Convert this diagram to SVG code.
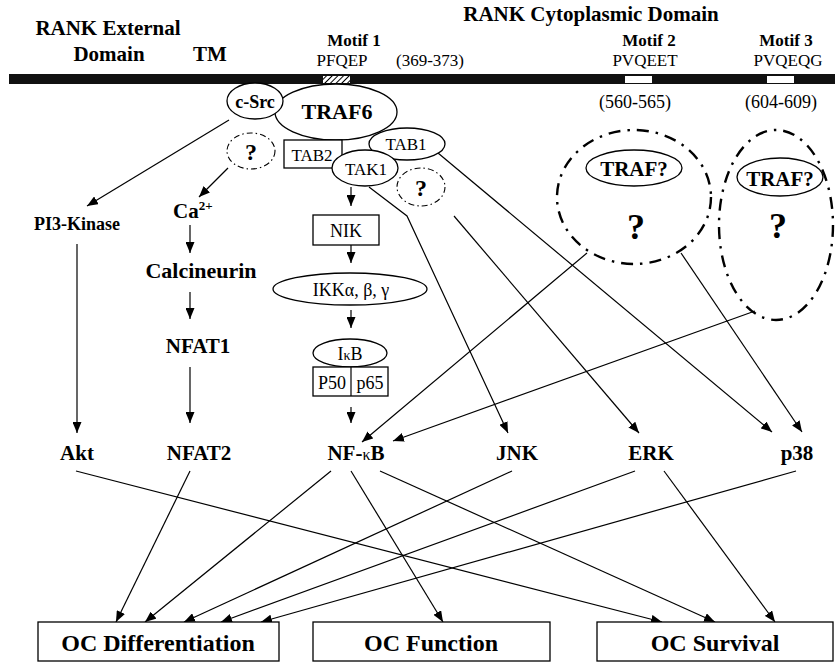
<svg xmlns="http://www.w3.org/2000/svg" width="835" height="665" viewBox="0 0 835 665">
<style>
text{font-family:"Liberation Serif","Times New Roman",serif;fill:#000;text-anchor:middle}
.b{font-weight:bold}
.s18{font-size:18px}
.s17{font-size:17px}
.s21{font-size:21px}
.shape{fill:#fff;stroke:#000;stroke-width:1.3}
.q{fill:none;stroke:#000;stroke-width:1.1;stroke-dasharray:6,3,1.5,3}
.big{fill:none;stroke:#000;stroke-width:2.4;stroke-dasharray:12,7,2.5,7}
.ln{fill:none;stroke:#000;stroke-width:1.2}
.ar{marker-end:url(#ah)}
</style>
<defs>
<marker id="ah" markerUnits="userSpaceOnUse" markerWidth="11" markerHeight="9" refX="11" refY="4.5" orient="auto">
<path d="M0,0 L11,4.5 L0,9 z" fill="#000"/>
</marker>
<pattern id="hatch" patternUnits="userSpaceOnUse" width="4" height="4" patternTransform="rotate(45)">
<rect width="4" height="4" fill="#fff"/>
<line x1="0" y1="0" x2="0" y2="4" stroke="#000" stroke-width="2"/>
</pattern>
</defs>

<g id="membrane">
<rect x="9" y="74" width="826" height="10" fill="#111"/>
<rect x="323" y="76" width="27" height="7" fill="url(#hatch)"/>
<rect x="625" y="76" width="27" height="7" fill="#fff"/>
<rect x="767" y="76" width="27" height="7" fill="#fff"/>
</g>

<g id="headers">
<text class="b s21" x="108" y="35">RANK External</text>
<text class="b s21" x="109" y="61">Domain</text>
<text class="b s21" x="210" y="61">TM</text>
<text class="b s21" x="591" y="21">RANK Cytoplasmic Domain</text>
<text class="b s17" x="354" y="46">Motif 1</text>
<text class="s17" x="342" y="66">PFQEP</text>
<text class="s17" x="430" y="66">(369-373)</text>
<text class="b s17" x="649" y="46">Motif 2</text>
<text class="s17" x="645" y="66">PVQEET</text>
<text class="b s17" x="786" y="46">Motif 3</text>
<text class="s17" x="788" y="66">PVQEQG</text>
<text class="s18" x="635" y="108">(560-565)</text>
<text class="s18" x="781" y="108">(604-609)</text>
</g>

<g id="connectors">
<line class="ln ar" x1="229" y1="120" x2="87" y2="206"/>
<line class="ln ar" x1="228" y1="168" x2="199" y2="197"/>
<line class="ln ar" x1="190" y1="225" x2="190" y2="253"/>
<line class="ln ar" x1="190" y1="292" x2="190" y2="319"/>
<line class="ln ar" x1="190" y1="367" x2="190" y2="423"/>
<line class="ln ar" x1="77" y1="244" x2="77" y2="433"/>
<line class="ln ar" x1="351" y1="187" x2="351" y2="206"/>
<line class="ln ar" x1="351" y1="245" x2="351" y2="263"/>
<line class="ln ar" x1="351" y1="310" x2="351" y2="328"/>
<line class="ln ar" x1="351" y1="407" x2="351" y2="423"/>
<polyline class="ln ar" points="369,187 407,216 508,433"/>
<line class="ln ar" x1="454" y1="216" x2="639" y2="433"/>
<line class="ln ar" x1="438" y1="153" x2="772" y2="432"/>
<line class="ln ar" x1="681" y1="253" x2="802" y2="432"/>
<line class="ln ar" x1="587" y1="253" x2="362" y2="442"/>
<line class="ln ar" x1="755" y1="311" x2="393" y2="441"/>
<line class="ln ar" x1="76" y1="471" x2="662" y2="622"/>
<line class="ln ar" x1="190" y1="471" x2="116" y2="622"/>
<line class="ln ar" x1="331" y1="471" x2="145" y2="622"/>
<line class="ln ar" x1="351" y1="471" x2="443" y2="622"/>
<line class="ln ar" x1="380" y1="471" x2="715" y2="622"/>
<line class="ln ar" x1="512" y1="471" x2="184" y2="622"/>
<line class="ln ar" x1="635" y1="471" x2="221" y2="622"/>
<line class="ln ar" x1="664" y1="471" x2="775" y2="622"/>
<line class="ln ar" x1="796" y1="471" x2="261" y2="622"/>
</g>

<g id="traf6"><ellipse class="shape" cx="336" cy="112" rx="61" ry="28"/><text class="b" style="font-size:22px" x="337" y="119">TRAF6</text></g>
<g id="csrc"><ellipse class="shape" cx="255" cy="101" rx="28" ry="18"/><text class="b s18" x="255" y="108">c-Src</text></g>
<g id="tab2"><rect class="shape" x="284" y="140" width="58" height="28"/><text class="s17" x="312" y="161">TAB2</text></g>
<g id="tab1"><ellipse class="shape" cx="407" cy="144" rx="38" ry="16"/><text class="s17" x="406" y="150">TAB1</text></g>
<g id="tak1"><ellipse class="shape" cx="365" cy="168" rx="33" ry="18"/><text class="s17" x="366" y="175">TAK1</text></g>
<g id="q1"><ellipse class="q" cx="251" cy="151" rx="24" ry="18"/><text class="b" style="font-size:24px" x="251" y="160">?</text></g>
<g id="q2"><ellipse class="q" cx="421" cy="187" rx="24" ry="19"/><text class="b" style="font-size:24px" x="421" y="196">?</text></g>

<g id="pi3k"><text class="b s18" x="77" y="230">PI3-Kinase</text></g>
<g id="ca"><text class="b s21" x="173" y="218" style="text-anchor:start">Ca<tspan style="font-size:13px" dy="-8">2+</tspan></text></g>
<g id="calcineurin"><text class="b" style="font-size:22px" x="201" y="278">Calcineurin</text></g>
<g id="nfat1"><text class="b s21" x="198" y="353">NFAT1</text></g>

<g id="nik"><rect class="shape" x="313" y="215" width="66" height="30"/><text class="s18" x="346" y="237">NIK</text></g>
<g id="ikk"><ellipse class="shape" cx="350" cy="289" rx="77" ry="16"/><text class="s18" x="351" y="296">IKKα, β, γ</text></g>
<g id="ikb"><ellipse class="shape" cx="350" cy="353" rx="37" ry="14"/><text class="s18" x="350" y="360">I<tspan style="font-size:14px">κ</tspan>B</text>
<rect class="shape" x="313" y="367" width="75" height="29"/><line class="ln" x1="351" y1="367" x2="351" y2="396"/>
<text class="s18" x="332" y="389">P50</text><text class="s18" x="370" y="389">p65</text></g>

<g id="trafq1"><ellipse class="big" cx="634" cy="197" rx="77" ry="67"/><ellipse class="shape" cx="634" cy="168" rx="48" ry="18"/><text class="b s21" x="634" y="176">TRAF?</text><text class="b" style="font-size:36px" x="636" y="239">?</text></g>
<g id="trafq2"><ellipse class="big" cx="776" cy="225" rx="57" ry="95"/><ellipse class="shape" cx="780" cy="177" rx="43" ry="19"/><text class="b s21" x="780" y="186">TRAF?</text><text class="b" style="font-size:36px" x="778" y="238">?</text></g>

<g id="akt"><text class="b s21" x="77" y="460">Akt</text></g>
<g id="nfat2"><text class="b s21" x="199" y="460">NFAT2</text></g>
<g id="nfkb"><text class="b s21" x="356" y="460">NF-<tspan style="font-size:16px;font-weight:normal">κ</tspan>B</text></g>
<g id="jnk"><text class="b s21" x="517" y="460">JNK</text></g>
<g id="erk"><text class="b s21" x="651" y="460">ERK</text></g>
<g id="p38"><text class="b s21" x="797" y="460">p38</text></g>

<g id="ocdiff"><rect class="shape" x="38" y="622" width="241" height="39"/><text class="b" style="font-size:24px" x="158" y="651">OC Differentiation</text></g>
<g id="ocfunc"><rect class="shape" x="313" y="622" width="237" height="39"/><text class="b" style="font-size:24px" x="431" y="651">OC Function</text></g>
<g id="ocsurv"><rect class="shape" x="597" y="622" width="236" height="39"/><text class="b" style="font-size:24px" x="715" y="651">OC Survival</text></g>
</svg>
